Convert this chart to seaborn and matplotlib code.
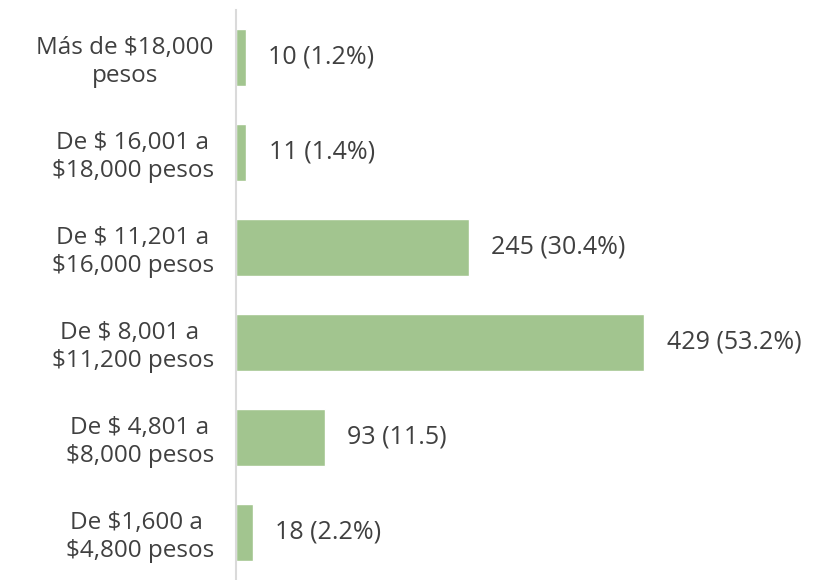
import pandas as pd
import seaborn as sns
import matplotlib.pyplot as plt
from matplotlib.ticker import FixedLocator

# datos del gráfico
categorias = ['Más de $18,000\npesos',
              'De $ 16,001 a\n$18,000 pesos',
              'De $ 11,201 a\n$16,000 pesos',
              'De $ 8,001 a \n$11,200 pesos',
              'De $ 4,801 a\n$8,000 pesos',
              'De $1,600 a \n$4,800 pesos']
valores = [10, 11, 245, 429, 93, 18]
etiquetas = ['10 (1.2%)', '11 (1.4%)', '245 (30.4%)', '429 (53.2%)', '93 (11.5)', '18 (2.2%)']

df = pd.DataFrame({'categoria': categorias, 'valor': valores})

sns.set_style('white')
plt.rcParams['font.family'] = ['Open Sans', 'DejaVu Sans']

fig = plt.figure(figsize=(8.29, 5.80), dpi=100)
ax = fig.add_axes([0.2847, 0.0, 0.7153, 0.9828])

sns.barplot(data=df, x='valor', y='categoria', color='#a2c58f', saturation=1,
            width=0.59, ax=ax)

ax.bar_label(ax.containers[0], labels=etiquetas, padding=16, fontsize=18, color='#404040')

ax.set_xlim(0, 623)
ax.set_ylim(5.5, -0.5)
ax.set_xlabel('')
ax.set_ylabel('')
ax.set_xticks([])

for s in ['top', 'right', 'bottom']:
    ax.spines[s].set_visible(False)
ax.spines['left'].set_color('#dadada')
ax.spines['left'].set_linewidth(1.5)

ax.tick_params(axis='y', which='major', length=0, pad=16, labelsize=17.5, labelcolor='#404040')
for lbl in ax.get_yticklabels():
    lbl.set_multialignment('center')
    lbl.set_linespacing(1.2)
ax.yaxis.set_minor_locator(FixedLocator([0.5, 1.5, 2.5, 3.5, 4.5]))
ax.tick_params(axis='y', which='minor', length=6, width=1.5, color='#dadada')

fig.savefig('out.png', dpi=100)
